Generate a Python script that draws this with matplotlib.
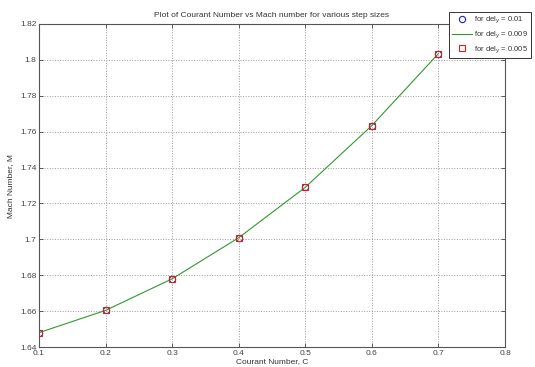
import matplotlib
matplotlib.use('Agg')
import matplotlib.pyplot as plt

courant = [0.1, 0.2, 0.3, 0.4, 0.5, 0.6, 0.7]
mach_01 = [1.648, 1.6604, 1.678, 1.7009, 1.729, 1.7634, 1.8035]
mach_009 = [1.648, 1.6604, 1.678, 1.7009, 1.729, 1.7634, 1.8035]
mach_005 = [1.648, 1.6604, 1.678, 1.7009, 1.729, 1.7634, 1.8035]

x_ticks = [0.1, 0.2, 0.3, 0.4, 0.5, 0.6, 0.7, 0.8]
y_ticks = [1.64, 1.66, 1.68, 1.70, 1.72, 1.74, 1.76, 1.78, 1.80, 1.82]

plt.rcParams['font.family'] = ['Liberation Sans', 'DejaVu Sans']

fig = plt.figure(figsize=(5.35, 3.67), dpi=100)
ax = fig.add_axes([39 / 535, 20 / 367, 466 / 535, 323 / 367])

ax.plot(courant, mach_01, 'o', mfc='none', mec='#2020c0', ms=4.5, mew=0.8, label='for del$_y$ = 0.01')
ax.plot(courant, mach_009, '-', color='#2e9a2e', lw=0.8, label='for del$_y$ = 0.009')
ax.plot(courant, mach_005, 's', mfc='none', mec='#d02020', ms=4.5, mew=0.8, label='for del$_y$ = 0.005')

ax.set_xlim(0.1, 0.8)
ax.set_ylim(1.64, 1.82)
ax.set_xticks(x_ticks)
ax.set_yticks(y_ticks)
ax.set_xticklabels(['0.1', '0.2', '0.3', '0.4', '0.5', '0.6', '0.7', '0.8'])
ax.set_yticklabels(['1.64', '1.66', '1.68', '1.7', '1.72', '1.74', '1.76', '1.78', '1.8', '1.82'])
ax.tick_params(direction='in', top=True, right=True, labelsize=6, colors='#444444', length=3, width=0.6, pad=2)
for s in ax.spines.values():
    s.set_color('#555555')
    s.set_linewidth(0.8)
ax.grid(True, linestyle=':', color='#999999', linewidth=0.7)

ax.set_title('Plot of Courant Number vs Mach number for various step sizes', fontsize=6, color='#333333', pad=5)
ax.set_xlabel('Courant Number, C', fontsize=6, color='#333333', labelpad=1)
ax.set_ylabel('Mach Number, M', fontsize=6, color='#333333', labelpad=4)

leg = ax.legend(loc='upper left', bbox_to_anchor=(449 / 535, 1 - 12 / 367), bbox_transform=fig.transFigure,
                fontsize=5.5, fancybox=False, framealpha=1, edgecolor='#333333', borderaxespad=0,
                handlelength=2.6, handletextpad=0.3, labelspacing=0.5, borderpad=0.35)
leg.get_frame().set_linewidth(0.7)
for t in leg.get_texts():
    t.set_color('#333333')

fig.savefig('out.png', dpi=100)
